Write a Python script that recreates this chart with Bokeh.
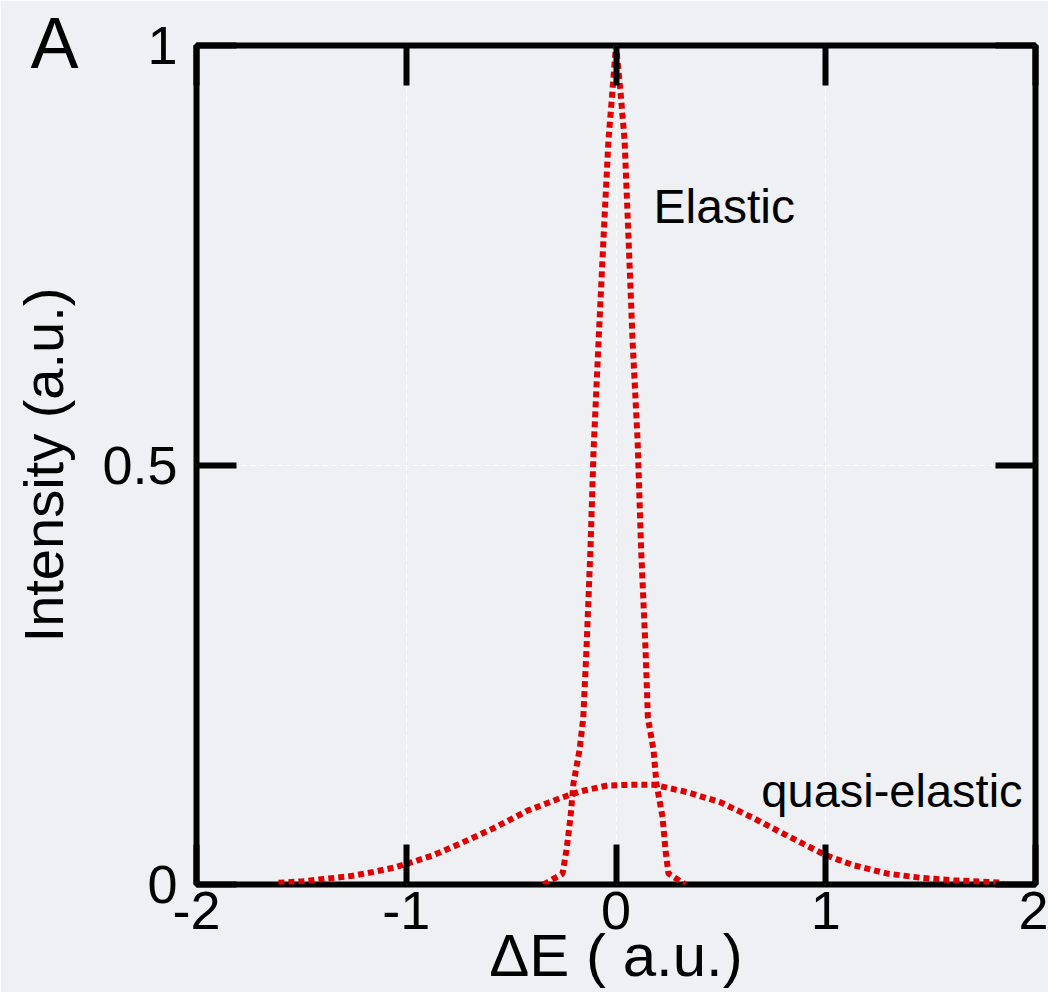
from bokeh.plotting import figure
from bokeh.models import Range1d, LinearAxis, FixedTicker, Label, Title
from bokeh.embed import file_html
from bokeh.resources import INLINE

# ---- data ----
elastic_x = [-0.346, -0.255, -0.236, -0.217, -0.203, -0.174, -0.156, -0.141, -0.122, -0.107,
             -0.083, -0.060, -0.036, -0.017, 0.0, 0.021, 0.041, 0.060, 0.079, 0.103,
             0.120, 0.141, 0.152, 0.179, 0.193, 0.222, 0.236, 0.250, 0.331]
elastic_y = [0.0, 0.013, 0.041, 0.080, 0.120, 0.160, 0.199, 0.279, 0.398, 0.517,
             0.648, 0.768, 0.887, 0.946, 1.0, 0.946, 0.887, 0.768, 0.648, 0.529,
             0.398, 0.279, 0.199, 0.160, 0.120, 0.080, 0.041, 0.013, 0.0]

quasi_x = [-1.609, -1.490, -1.376, -1.266, -1.156, -1.061, -0.980, -0.870, -0.741, -0.584,
           -0.422, -0.265, -0.170, -0.041, 0.103, 0.179, 0.341, 0.498, 0.656, 0.818,
           0.999, 1.132, 1.294, 1.452, 1.609, 1.847]
quasi_y = [0.002, 0.004, 0.007, 0.010, 0.015, 0.020, 0.026, 0.035, 0.049, 0.067,
           0.088, 0.103, 0.111, 0.118, 0.119, 0.119, 0.110, 0.098, 0.079, 0.058,
           0.035, 0.023, 0.013, 0.008, 0.005, 0.002]

x_ticks = [-2, -1, 0, 1, 2]
x_tick_labels = ["-2", "-1", "0", "1", "2"]
y_ticks = [0, 0.5, 1]
y_tick_labels = ["0", "0.5", "1"]

x_title = "ΔE ( a.u.)"
y_title = "Intensity (a.u.)"
panel_letter = "A"
elastic_label = "Elastic"
quasi_label = "quasi-elastic"

# ---- styling ----
BG = "#eef0f4"
RED = "#e00000"
FONT = "Liberation Sans"

p = figure(width=1048, height=992,
           x_range=Range1d(-2, 2), y_range=Range1d(0, 1),
           output_backend="svg", toolbar_location=None,
           min_border_left=196, min_border_right=13,
           min_border_top=45, min_border_bottom=108,
           background_fill_color=BG, border_fill_color=BG,
           x_axis_label=x_title, y_axis_label=y_title)

# panel letter "A" as the plot title (outside the frame, top-left)
p.title = Title(text=panel_letter, align="left", offset=-166, standoff=-76,
                vertical_align="middle", text_font=FONT, text_font_size="72px",
                text_font_style="normal", text_color="black")

p.outline_line_color = "black"
p.outline_line_width = 6
p.outline_line_alpha = 1.0

def style_axis(ax, ticks, labels, show):
    ax.ticker = FixedTicker(ticks=ticks)
    ax.axis_line_color = None
    ax.major_tick_in = 40
    ax.major_tick_out = 0
    ax.major_tick_line_width = 6
    ax.major_tick_line_color = "black"
    ax.minor_tick_line_color = None
    ax.major_label_text_font = FONT
    ax.major_label_text_color = "black"
    ax.axis_label_text_font = FONT
    ax.axis_label_text_font_style = "normal"
    ax.axis_label_text_color = "black"
    if show:
        ax.major_label_overrides = {t: l for t, l in zip(ticks, labels)}
        ax.major_label_text_font_size = "54px"
    else:
        ax.major_label_overrides = {t: "" for t in ticks}
        ax.major_label_text_font_size = "0px"
        ax.major_label_standoff = 0

xa = p.xaxis[0]
ya = p.yaxis[0]
style_axis(xa, x_ticks, x_tick_labels, True)
style_axis(ya, y_ticks, y_tick_labels, True)
xa.major_label_standoff = 7
ya.major_label_standoff = 19
xa.axis_label_text_font_size = "60px"
ya.axis_label_text_font_size = "56px"
xa.axis_label_standoff = -10
ya.axis_label_standoff = 24

top = LinearAxis()
right = LinearAxis()
style_axis(top, x_ticks, x_tick_labels, False)
style_axis(right, y_ticks, y_tick_labels, False)
p.add_layout(top, "above")
p.add_layout(right, "right")

p.xgrid.ticker = FixedTicker(ticks=x_ticks)
p.ygrid.ticker = FixedTicker(ticks=y_ticks)
for g in (p.xgrid[0], p.ygrid[0]):
    g.grid_line_color = "white"
    g.grid_line_dash = "5 4"
    g.grid_line_width = 1.2

p.line(quasi_x, quasi_y, line_color=RED, line_width=6, line_dash="6 4")
p.line(elastic_x, elastic_y, line_color=RED, line_width=6, line_dash="6 4")

p.add_layout(Label(x=0.179, y=0.808, text=elastic_label, text_font=FONT,
                   text_font_size="48px", text_color="black", text_baseline="alphabetic"))
p.add_layout(Label(x=0.693, y=0.112, text=quasi_label, text_font=FONT,
                   text_font_size="47px", text_color="black", text_baseline="alphabetic"))

open("out.html", "w").write(file_html(p, INLINE))
